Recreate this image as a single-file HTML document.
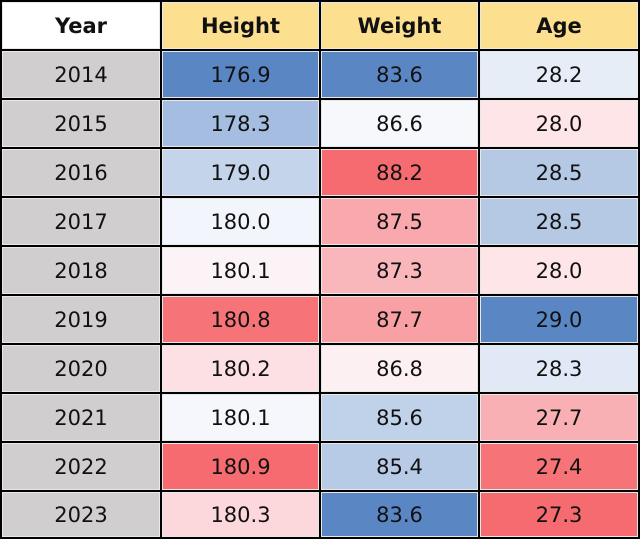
<!DOCTYPE html>
<html><head><meta charset="utf-8"><style>
body{margin:0;background:#000;width:640px;height:539px;overflow:hidden;position:relative;font-family:"DejaVu Sans","Liberation Sans",sans-serif;}
.c{position:absolute;box-sizing:border-box;border:1px solid #e8e8e8;display:flex;align-items:center;justify-content:center;font-size:21px;color:#111;}
.h{font-weight:bold;}
</style></head><body>
<div id="t"></div>
<script>
var xs=[0,160,319,478,638];
var ys=[0,49,98,147,196,245,294,343,392,441,490,537];
var rows=[
["Year","Height","Weight","Age"],
["2014","176.9","83.6","28.2"],["2015","178.3","86.6","28.0"],["2016","179.0","88.2","28.5"],["2017","180.0","87.5","28.5"],["2018","180.1","87.3","28.0"],["2019","180.8","87.7","29.0"],["2020","180.2","86.8","28.3"],["2021","180.1","85.6","27.7"],["2022","180.9","85.4","27.4"],["2023","180.3","83.6","27.3"]];
var cols=[
null,
["#5a86c4","#a4bde0","#c4d4ea","#f2f5fb","#fcf3f6","#f67478","#fde0e3","#f5f7fc","#f56b6f","#fcd8dc"],
["#5a86c4","#f7f8fc","#f56b6f","#f9a9ad","#fab7bb","#f8a0a4","#fdf0f2","#c0d1ea","#b8cbe6","#5a86c4"],
["#e6edf7","#fde5e8","#b5c9e5","#b5c9e5","#fde5e8","#5a86c4","#e2e9f6","#f9b0b4","#f67478","#f56b6f"]];
var h="";
for(var r=0;r<11;r++)for(var c=0;c<4;c++){
var bg;
if(r==0)bg=c==0?"#fff":"#fde08f";else if(c==0)bg="#d0cece";else bg=cols[c][r-1];
var x=xs[c]+2,y=ys[r]+2,w=xs[c+1]-xs[c]-2,hh=ys[r+1]-ys[r]-2;
h+='<div class="c'+(r==0?' h':'')+'" style="left:'+x+'px;top:'+y+'px;width:'+w+'px;height:'+hh+'px;background:'+bg+'">'+rows[r][c]+'</div>';
}
document.getElementById("t").innerHTML=h;
</script>
</body></html>
